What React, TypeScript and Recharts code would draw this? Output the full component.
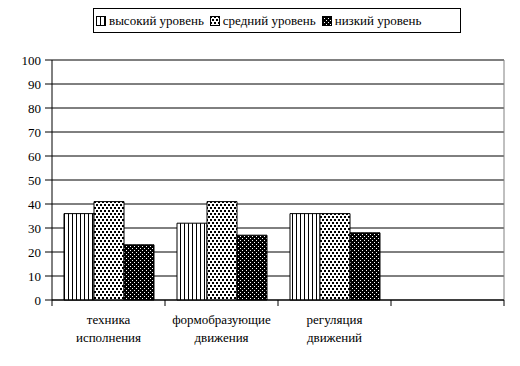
import React from 'react';
import { BarChart, Bar, XAxis, YAxis, CartesianGrid, Legend } from 'recharts';

// categories (last one is an empty slot, as in the original)
const categories = ['техника\nисполнения', 'формобразующие\nдвижения', 'регуляция\nдвижений', ''];
const highLevel = [36, 32, 36, null];
const midLevel = [41, 41, 36, null];
const lowLevel = [23, 27, 28, null];
const yTicks = [0, 10, 20, 30, 40, 50, 60, 70, 80, 90, 100];

const seriesNames = ['высокий уровень', 'средний уровень', 'низкий уровень'];
const patternIds = ['patHigh', 'patMid', 'patLow'];

const data = categories.map((name, i) => ({
  name,
  high: highLevel[i],
  mid: midLevel[i],
  low: lowLevel[i],
}));

const FONT = 'Liberation Serif, DejaVu Serif, serif';
const W = 520;
const H = 366;
const PLOT_LEFT = 52;
const PLOT_RIGHT = 504;
const BAND = (PLOT_RIGHT - PLOT_LEFT) / categories.length;

// x tick: two lines of text plus tick marks on category boundaries
const CategoryTick = (props: any) => {
  const { x, y, payload, index } = props;
  const lines = String(payload.value).split('\n');
  const half = BAND / 2;
  return (
    <g>
      {index === 0 && <line x1={x - half} x2={x - half} y1={y} y2={y + 6} stroke="#000" />}
      <line x1={x + half} x2={x + half} y1={y} y2={y + 6} stroke="#000" />
      {lines.map((l, i) => (
        <text key={i} x={x} y={y + 24 + i * 18} textAnchor="middle" fontSize={13} style={{ fontFamily: FONT }} fill="#000">
          {l}
        </text>
      ))}
    </g>
  );
};

const LegendBox = () => (
  <div
    style={{
      boxSizing: 'border-box',
      border: '1px solid #000',
      height: 25,
      width: 368,
      display: 'flex',
      alignItems: 'center',
      paddingLeft: 2,
      fontFamily: FONT,
      fontSize: 13,
      color: '#000',
      background: '#fff',
    }}
  >
    {seriesNames.map((n, i) => (
      <span key={n} style={{ display: 'flex', alignItems: 'center', marginRight: i < 2 ? 6 : 0 }}>
        <svg width={10} height={10} style={{ marginRight: 3 }}>
          <rect x={0.5} y={0.5} width={9} height={9} fill={`url(#${patternIds[i]})`} stroke="#000" />
        </svg>
        {n}
      </span>
    ))}
  </div>
);

export default function App() {
  return (
    <div style={{ position: 'absolute', left: 0, top: 0, background: '#fff', fontFamily: FONT }}>
      <BarChart
        width={W}
        height={H}
        data={data}
        margin={{ top: 60, right: W - PLOT_RIGHT, left: 0, bottom: 0 }}
        barGap={0}
        barSize={30}
      >
        <defs>
          <pattern id="patHigh" width={4} height={4} patternUnits="userSpaceOnUse">
            <rect width={4} height={4} fill="#fff" />
            <rect x={0} y={0} width={1} height={4} fill="#000" />
          </pattern>
          <pattern id="patMid" width={4} height={6} patternUnits="userSpaceOnUse">
            <rect width={4} height={6} fill="#fff" />
            <rect x={0} y={0} width={2} height={2} fill="#000" />
            <rect x={2} y={3} width={2} height={2} fill="#000" />
          </pattern>
          <pattern id="patLow" width={4} height={4} patternUnits="userSpaceOnUse">
            <rect width={4} height={4} fill="#000" />
            <rect x={0} y={0} width={1} height={1} fill="#fff" />
            <rect x={2} y={2} width={1} height={1} fill="#fff" />
          </pattern>
        </defs>
        <CartesianGrid vertical={false} stroke="#000" />
        <CartesianGrid horizontal={false} verticalPoints={[PLOT_RIGHT]} stroke="#808080" />
        <XAxis
          dataKey="name"
          height={H - 300}
          axisLine={{ stroke: '#000' }}
          tickLine={false}
          tickSize={0}
          tickMargin={0}
          interval={0}
          tick={<CategoryTick />}
        />
        <YAxis
          width={PLOT_LEFT}
          domain={[0, 100]}
          ticks={yTicks}
          interval={0}
          axisLine={{ stroke: '#000' }}
          tickLine={{ stroke: '#000' }}
          tickSize={7}
          tickMargin={4}
          tick={{ fill: '#000', fontSize: 13, style: { fontFamily: FONT } }}
        />
        <Legend
          layout="horizontal"
          verticalAlign="middle"
          wrapperStyle={{ top: 8, left: 93, width: 368, height: 25 }}
          content={<LegendBox />}
        />
        <Bar dataKey="high" name={seriesNames[0]} fill="url(#patHigh)" stroke="#000" isAnimationActive={false} />
        <Bar dataKey="mid" name={seriesNames[1]} fill="url(#patMid)" stroke="#000" isAnimationActive={false} />
        <Bar dataKey="low" name={seriesNames[2]} fill="url(#patLow)" stroke="#000" isAnimationActive={false} />
      </BarChart>
    </div>
  );
}
